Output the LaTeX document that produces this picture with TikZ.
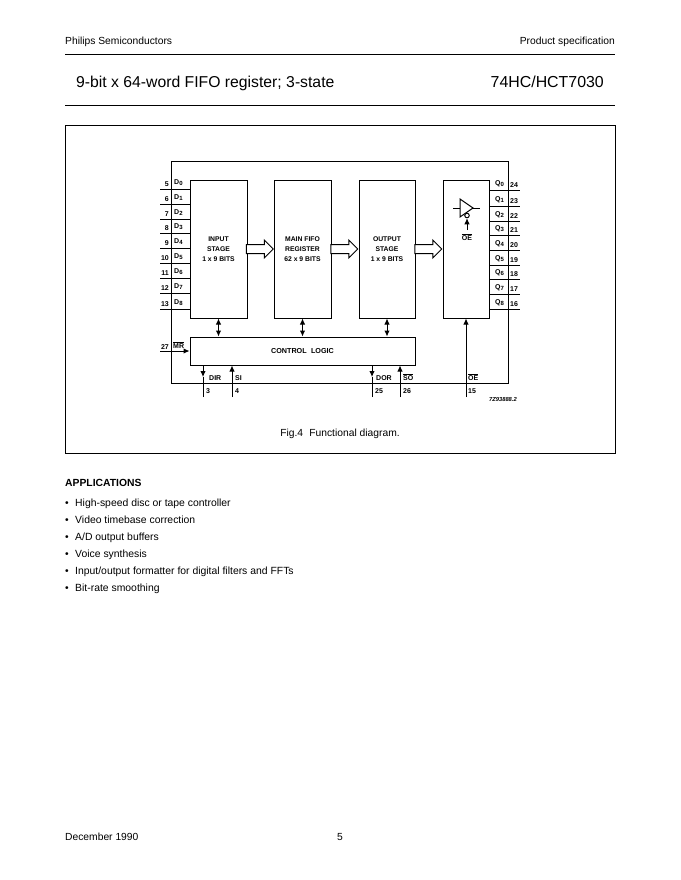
\documentclass[tikz,border=0pt]{standalone}
\usepackage{fontspec}
\setmainfont{Liberation Sans}
\usetikzlibrary{arrows.meta,shapes.arrows}
\newcommand{\pinsub}[1]{\raisebox{-1.6pt}{\fontsize{6}{7}\selectfont #1}}
\tikzset{
  block/.style={
    draw,
    line width=1pt,
    fill=white,
    inner sep=0pt,
    minimum width=57,
    minimum height=138,
    align=center,
    font=\fontsize{6.8}{10}\selectfont\bfseries
  },
  hollow/.style={
    single arrow,
    draw,
    line width=1pt,
    fill=white,
    inner xsep=0pt,
    inner ysep=4pt,
    outer sep=0pt,
    minimum height=27,
    single arrow head extend=4.5pt,
    single arrow tip angle=90
  },
  pinline/.style={line width=1pt},
  sigarrow/.style={line width=1pt,-{Latex[length=6pt,width=5.5pt]}},
  bothways/.style={line width=1pt,{Latex[length=6pt,width=5.5pt]}-{Latex[length=6pt,width=5.5pt]}},
  pinlabel/.style={inner sep=0pt,font=\fontsize{7}{8}\selectfont\bfseries},
  pagetext/.style={anchor=base west,inner sep=0pt,font=\fontsize{10.29}{12}\selectfont}
}

\begin{document}
\begin{tikzpicture}[x=1pt,y=-1pt]
        \useasboundingbox (0,0) rectangle (680,880);
        % page head
        \node[pagetext] (maker) at (65,45) {Philips Semiconductors};
        \node[pagetext,anchor=base east] (kind) at (615,45) {Product specification};
        \coordinate (headl) at (65,54);
        \coordinate (headr) at (615,54);
        \draw (headl) -- (headr);
        \node[pagetext,font=\fontsize{15.75}{18}\selectfont] (title) at (76,88) {9-bit x 64-word FIFO register; 3-state};
        \node[pagetext,font=\fontsize{15.9}{18}\selectfont,anchor=base east] (part) at (604,88) {74HC/HCT7030};
        \coordinate (rulel) at (65,105);
        \coordinate (ruler) at (615,105);
        \draw (rulel) -- (ruler);
        \node[draw,inner sep=0pt,minimum width=550,minimum height=328] (frame) at (340,289) {};

        % chip
        \node[draw,line width=1pt,inner sep=0pt,minimum width=337,minimum height=222] (chip) at (339.5,272) {};
        \node[block] (input) at (218.5,249) {INPUT\\STAGE\\1 x 9 BITS};
        \node[block] (fifo) at (302.5,249) {MAIN FIFO\\REGISTER\\62 x 9 BITS};
        \node[block,minimum width=56] (output) at (387,249) {OUTPUT\\STAGE\\1 x 9 BITS};
        \node[block,minimum width=46] (driver) at (466,249) {};
        \node[block,minimum width=225,minimum height=28,font=\fontsize{7.2}{10}\selectfont\bfseries] (control) at (302.5,351) {CONTROL\hspace{0.6em}LOGIC};

        \node[hollow] (ina) at (257.5,249) {};
        \node[hollow] (inb) at (342,249) {};
        \node[hollow] (inc) at (426,249) {};

        \draw[bothways] (input.south) -- (input.south |- control.north);
        \draw[bothways] (fifo.south) -- (fifo.south |- control.north);
        \draw[bothways] (output.south) -- (output.south |- control.north);

        % data pins
        \foreach \i/\num/\ypos in {0/5/189,1/6/204,2/7/219,3/8/233,4/9/248,5/10/263,6/11/278,7/12/293,8/13/309}{
            \coordinate (d\i) at (160,\ypos);
            \draw[pinline] (d\i) -- (d\i -| input.west);
            \node[pinlabel,anchor=base east] (dnum\i) at (169,\ypos-3) {\num};
            \node[pinlabel,anchor=base west] (dtext\i) at (174,\ypos-5) {D\pinsub{\i}};
        }
        \foreach \i/\num/\ypos in {0/24/190,1/23/206,2/22/221,3/21/235,4/20/250,5/19/265,6/18/279,7/17/294,8/16/309}{
            \coordinate (q\i) at (520,\ypos);
            \draw[pinline] (q\i -| driver.east) -- (q\i);
            \node[pinlabel,anchor=base west] (qtext\i) at (495,\ypos-5) {Q\pinsub{\i}};
            \node[pinlabel,anchor=base west] (qnum\i) at (510,\ypos-3) {\num};
        }

        % buffer in last block
        \coordinate (bufa) at (460,199);
        \coordinate (bufb) at (460,217);
        \coordinate (buftip) at (473,208);
        \coordinate (bufin) at (453,208);
        \coordinate (bufout) at (480,208);
        \coordinate (bufen) at (467,230);
        \draw[line width=1pt] (bufa) -- (bufb) -- (buftip) -- cycle;
        \draw[pinline] (bufin) -- (460,208);
        \draw[pinline] (buftip) -- (bufout);
        \node[circle,draw,line width=1pt,fill=white,inner sep=0pt,minimum size=4.5] (bubble) at (467,215.5) {};
        \draw[sigarrow] (bufen) -- (bubble.south);
        \node[pinlabel] (ena) at (467,237) {$\overline{\hbox{OE}}$};

        % control pins
        \coordinate (mr) at (160,351);
        \draw[sigarrow] (mr) -- (control.west);
        \node[pinlabel,anchor=base east] (mrnum) at (169,349) {27};
        \node[pinlabel,anchor=base west] (mrtext) at (173,348) {$\overline{\hbox{MR}}$};

        \coordinate (dir) at (203,397);
        \coordinate (dirtip) at (203,377);
        \draw[pinline] (dir) -- (dirtip);
        \draw[sigarrow] (dir |- control.south) -- (dirtip);
        \node[pinlabel,anchor=base west] (dirtext) at (209,380) {DIR};
        \node[pinlabel,anchor=base west] (dirnum) at (206,393) {3};

        \coordinate (si) at (232,397);
        \draw[sigarrow] (si) -- (si |- control.south);
        \node[pinlabel,anchor=base west] (sitext) at (235,380) {SI};
        \node[pinlabel,anchor=base west] (sinum) at (235,393) {4};

        \coordinate (dor) at (372,397);
        \coordinate (dortip) at (372,377);
        \draw[pinline] (dor) -- (dortip);
        \draw[sigarrow] (dor |- control.south) -- (dortip);
        \node[pinlabel,anchor=base west] (dortext) at (376,380) {DOR};
        \node[pinlabel,anchor=base west] (dornum) at (375,393) {25};

        \coordinate (so) at (400,397);
        \draw[sigarrow] (so) -- (so |- control.south);
        \node[pinlabel,anchor=base west] (sotext) at (403,380) {$\overline{\hbox{SO}}$};
        \node[pinlabel,anchor=base west] (sonum) at (403,393) {26};

        \coordinate (oe) at (466,397);
        \draw[sigarrow] (oe) -- (driver.south);
        \node[pinlabel,anchor=base west] (oetext) at (468,380) {$\overline{\hbox{OE}}$};
        \node[pinlabel,anchor=base west] (oenum) at (468,393) {15};

        \node[pinlabel,font=\fontsize{5.8}{7}\selectfont\bfseries\itshape,anchor=base east] (code) at (517,401) {7Z93888.2};
        \node[pagetext,anchor=base] (caption) at (340,436) {Fig.4\hspace{0.6em}Functional diagram.};

        % text below
        \node[pagetext,font=\fontsize{10.35}{12}\selectfont\bfseries] (apps) at (65,486) {APPLICATIONS};
        \foreach \i/\ypos/\txt in {1/506/{High-speed disc or tape controller},2/523/{Video timebase correction},3/540/{A/D output buffers},4/557/{Voice synthesis},5/574/{Input/output formatter for digital filters and FFTs},6/591/{Bit-rate smoothing}}{
            \node[pagetext] (dot\i) at (65,\ypos) {•};
            \node[pagetext,font=\fontsize{10.4}{12}\selectfont] (app\i) at (75,\ypos) {\txt};
        }
        \node[pagetext] (date) at (65,840) {December 1990};
        \node[pagetext,anchor=base] (pageno) at (340,840) {5};
\end{tikzpicture}
\end{document}
